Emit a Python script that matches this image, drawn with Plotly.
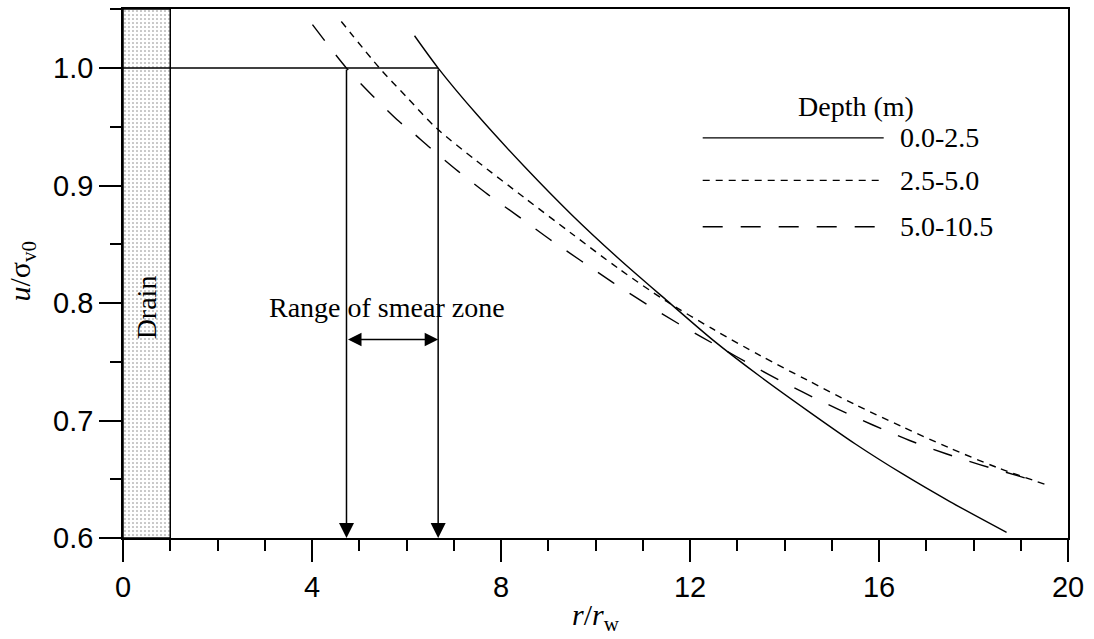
import plotly.graph_objects as go

# Excess pore pressure ratio u/sigma_v0 versus normalised radius r/r_w
r_shallow = [6.17, 6.67, 7.5, 8.5, 9.5, 10.5, 11.5, 12.5, 13.5, 14.5, 15.5, 16.5, 17.5, 18.70]
u_shallow = [1.0275, 1.0, 0.960, 0.916, 0.875, 0.8375, 0.8025, 0.768, 0.737, 0.708, 0.680,
             0.6545, 0.631, 0.6048]

r_middle = [4.62, 5.43, 6.0, 6.63, 7.5, 8.5, 9.5, 10.5, 11.5, 12.5, 13.5, 14.5, 15.5,
            16.5, 17.5, 18.5, 19.58]
u_middle = [1.0397, 1.0, 0.9755, 0.949, 0.9205, 0.8895, 0.859, 0.829, 0.8015, 0.7775, 0.755,
            0.734, 0.7135, 0.6945, 0.6765, 0.660, 0.6448]

r_deep = [4.01, 4.73, 5.26, 5.84, 6.14, 6.46, 7.09, 7.72, 8.36, 9.03, 9.70, 10.37, 11.08,
          11.75, 12.24, 12.98, 13.68, 14.39, 15.13, 15.87, 16.65, 17.42, 18.13, 18.91, 19.26]
u_deep = [1.037, 1.0, 0.9774, 0.9547, 0.9448, 0.9335, 0.9123, 0.8925, 0.874, 0.8543, 0.8358,
          0.8174, 0.799, 0.7826, 0.7712, 0.7545, 0.7388, 0.7241, 0.7097, 0.6962, 0.683,
          0.6717, 0.6625, 0.6533, 0.649]

depth_labels = ["0.0-2.5", "2.5-5.0", "5.0-10.5"]
drain_edge = [0.0, 1.0]          # drain occupies 0 <= r/r_w <= 1
smear_limits = [4.73, 6.67]      # inner / outer boundary of smear zone
u_ref = 1.0
smear_arrow_level = 0.769

x_range = [0, 20]
y_range = [0.6, 1.0503]

serif = "Liberation Serif, Times New Roman, serif"
sans = "Liberation Sans, Arial, sans-serif"
line_w = 1.5

fig = go.Figure()

# Drain column, stippled
fig.add_trace(go.Scatter(
    x=[drain_edge[0], drain_edge[1], drain_edge[1], drain_edge[0], drain_edge[0]],
    y=[y_range[0], y_range[0], y_range[1], y_range[1], y_range[0]],
    mode="lines", fill="toself", fillcolor="white",
    fillpattern=dict(shape=".", fgcolor="black", bgcolor="white", size=4, solidity=0.12),
    line=dict(color="black", width=line_w), hoverinfo="skip", showlegend=False))

# Reference level u/sigma_v0 = 1
fig.add_trace(go.Scatter(x=[drain_edge[0], smear_limits[1]], y=[u_ref, u_ref], mode="lines",
                         line=dict(color="black", width=line_w), showlegend=False))

styles = [dict(dash="solid"), dict(dash="7px,6px"), dict(dash="20px,18px")]
series = [(r_shallow, u_shallow), (r_middle, u_middle), (r_deep, u_deep)]
for (xs, ys), st, name in zip(series, styles, depth_labels):
    fig.add_trace(go.Scatter(x=xs, y=ys, mode="lines", name=name,
                             line=dict(color="black", width=1.4, shape="spline",
                                       smoothing=0.8, dash=st["dash"]),
                             showlegend=False))

annotations = []
# Vertical arrows marking the smear-zone limits
for xv in smear_limits:
    annotations.append(dict(x=xv, y=y_range[0], ax=xv, ay=u_ref, xref="x", yref="y",
                            axref="x", ayref="y", showarrow=True, arrowhead=2,
                            arrowsize=2.0, arrowwidth=line_w, arrowcolor="black",
                            standoff=0, text=""))
# Double-headed arrow spanning the smear zone
annotations.append(dict(x=smear_limits[1], y=smear_arrow_level, ax=smear_limits[0],
                        ay=smear_arrow_level, xref="x", yref="y", axref="x", ayref="y",
                        showarrow=True, arrowhead=2, startarrowhead=2, arrowside="end+start",
                        arrowsize=1.8, startarrowsize=1.8, arrowwidth=line_w,
                        arrowcolor="black", standoff=0, startstandoff=0, text=""))

text_font = dict(family=serif, size=28, color="black")
annotations.append(dict(x=5.59, y=0.7965, xref="x", yref="y", text="Range of smear zone",
                        xanchor="center", yanchor="middle", showarrow=False, font=text_font))
annotations.append(dict(x=0.5, y=0.796, xref="x", yref="y", text="Drain", textangle=-90,
                        xanchor="center", yanchor="middle", showarrow=False, font=text_font))

# Legend block (pixel positions converted to paper fractions of the plot area)
def px_x(p):
    return (p - 123.3) / 945.0

def px_y(p):
    return (537.7 - p) / 530.2

annotations.append(dict(x=px_x(856), y=px_y(105), xref="paper", yref="paper",
                        xanchor="center", yanchor="middle",
                        text="Depth (m)", showarrow=False, font=text_font))
legend_rows = [136.7, 179.3, 225.7]
shapes = []
for row, st, name in zip(legend_rows, styles, depth_labels):
    shapes.append(dict(type="line", xref="paper", yref="paper", x0=px_x(703), x1=px_x(884),
                       y0=px_y(row), y1=px_y(row),
                       line=dict(color="black", width=1.4, dash=st["dash"])))
    annotations.append(dict(x=px_x(898), y=px_y(row), xref="paper", yref="paper",
                            xanchor="left", yanchor="middle", text=name, showarrow=False,
                            font=text_font))

# Axis titles
annotations.append(dict(x=0.5, y=px_y(617), xref="paper", yref="paper",
                        xanchor="center", yanchor="middle",
                        text="<i>r</i>/<i>r</i><sub>w</sub>", showarrow=False,
                        font=dict(family=serif, size=30, color="black")))
annotations.append(dict(x=px_x(22), y=px_y(270), xref="paper", yref="paper",
                        xanchor="center", yanchor="middle",
                        text="<i>u</i>/σ<sub>v0</sub>", textangle=-90, showarrow=False,
                        font=dict(family=serif, size=30, color="black")))

axis_common = dict(showline=True, linecolor="black", linewidth=line_w, mirror=True,
                   ticks="outside", ticklen=22, tickwidth=line_w, tickcolor="black",
                   showgrid=False, zeroline=False,
                   tickfont=dict(family=sans, size=29, color="black"))

fig.update_layout(
    width=1094, height=639, autosize=False,
    margin=dict(l=123, r=26, t=7, b=101),
    paper_bgcolor="white", plot_bgcolor="white",
    xaxis=dict(range=x_range, tick0=0, dtick=4,
               minor=dict(dtick=1, ticks="outside", ticklen=11, tickwidth=line_w,
                          tickcolor="black", showgrid=False),
               **axis_common),
    yaxis=dict(range=y_range, tick0=0.6, dtick=0.1, tickformat=".1f",
               minor=dict(dtick=0.05, ticks="outside", ticklen=11, tickwidth=line_w,
                          tickcolor="black", showgrid=False),
               **axis_common),
    annotations=annotations, shapes=shapes, showlegend=False)

fig.write_html("out.html")
